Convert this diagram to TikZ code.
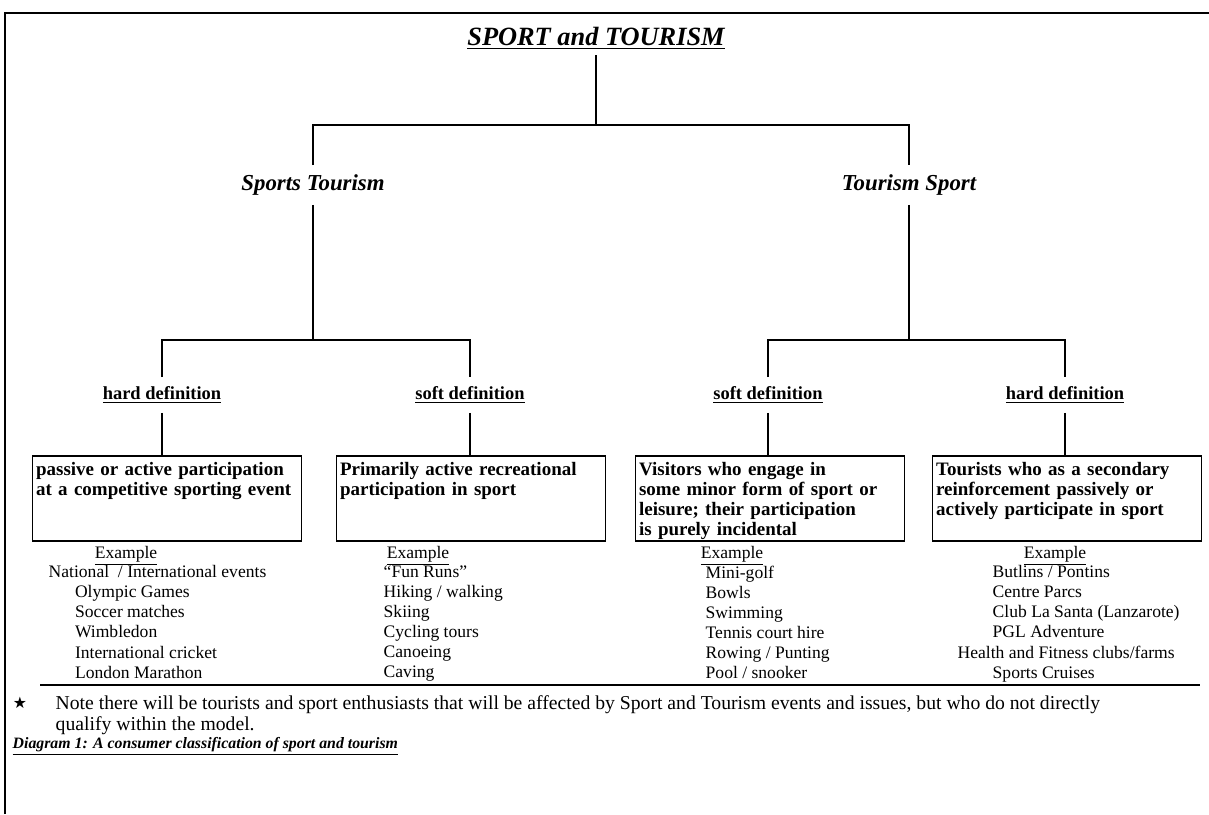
\documentclass[tikz,border=0pt]{standalone}
\usepackage{fontspec}
\setmainfont{Liberation Serif}
\newfontfamily\symfont{DejaVu Sans}
\usetikzlibrary{positioning}

\begin{document}
\begin{tikzpicture}
        [x=0.02cm, y=-0.02cm, line width=0.8pt,
         head/.style={font=\fontsize{15}{18}\selectfont\bfseries\itshape, inner sep=3pt},
         branch/.style={font=\fontsize{13}{15}\selectfont\bfseries\itshape, inner sep=5pt},
         defn/.style={font=\fontsize{10.5}{12}\selectfont\bfseries, inner sep=5pt},
         descbox/.style={draw, line width=1pt, anchor=north, text width=149pt, align=left, inner sep=2pt,
           text height=9.3pt, text depth=35pt, font=\fontsize{10.8}{11.4}\selectfont\bfseries},
         exhead/.style={font=\fontsize{10}{12}\selectfont, inner sep=0pt},
         exlist/.style={anchor=north west, align=left, inner sep=0pt, font=\fontsize{10}{11.4}\selectfont}]

        \useasboundingbox (0,0) rectangle (1209,814);
        \draw[line width=1.2pt] (5,814) -- (5,13) -- (1209,13);

        % tree
        \node[head] (top) at (596,38) {\underline{SPORT and TOURISM}};
        \node[branch] (st) at (313,185) {Sports Tourism};
        \node[branch] (ts) at (909,185) {Tourism Sport};
        \node[defn] (hd1) at (162,395) {\underline{hard definition}};
        \node[defn] (sd1) at (470,395) {\underline{soft definition}};
        \node[defn] (sd2) at (768,395) {\underline{soft definition}};
        \node[defn] (hd2) at (1065,395) {\underline{hard definition}};

        \coordinate (j0) at (596,125);
        \coordinate (j1) at (313,340);
        \coordinate (j2) at (909,340);

        \draw (top) -- (j0);
        \draw (st) |- (j0) -| (ts);
        \draw (st) -- (j1);
        \draw (ts) -- (j2);
        \draw (hd1) |- (j1) -| (sd1);
        \draw (sd2) |- (j2) -| (hd2);

        % boxes
        \node[descbox] (b1) at (167,455) {passive or active participation\\at a competitive sporting event};
        \node[descbox] (b2) at (471,455) {Primarily active recreational\\participation in sport};
        \node[descbox] (b3) at (770,455) {Visitors who engage in\\some minor form of sport or\\leisure; their participation\\is purely incidental};
        \node[descbox] (b4) at (1067,455) {Tourists who as a secondary\\reinforcement passively or\\actively participate in sport};

        \draw (hd1) -- (hd1 |- b1.north);
        \draw (sd1) -- (sd1 |- b2.north);
        \draw (sd2) -- (sd2 |- b3.north);
        \draw (hd2) -- (hd2 |- b4.north);

        % examples
        \node[exhead] (e1) at (126,556) {\underline{Example}};
        \node[exhead] (e2) at (418,556) {\underline{Example}};
        \node[exhead] (e3) at (732,556) {\underline{Example}};
        \node[exhead] (e4) at (1055,556) {\underline{Example}};

        \node[exlist] (l1) at (48,565) {National~ / International events\\
          \hspace*{15pt}Olympic Games\\\hspace*{15pt}Soccer matches\\\hspace*{15pt}Wimbledon\\
          \hspace*{15pt}International cricket\\\hspace*{15pt}London Marathon};
        \node[exlist] (l2) at (383,565) {``Fun Runs''\\Hiking / walking\\Skiing\\Cycling tours\\Canoeing\\Caving};
        \node[exlist] (l3) at (705,565) {Mini-golf\\Bowls\\Swimming\\Tennis court hire\\Rowing / Punting\\Pool / snooker};
        \node[exlist] (l4) at (992,565) {Butlins / Pontins\\Centre Parcs\\Club La Santa (Lanzarote)\\PGL Adventure\\
          \hspace*{-20pt}Health and Fitness clubs/farms\\Sports Cruises};

        % note
        \draw (40,685) -- (1200,685);
        \node[inner sep=0pt] (star) at (20,703) {\symfont\fontsize{9}{10}\selectfont ★};
        \node[anchor=north west, align=left, inner sep=0pt, font=\fontsize{11.2}{12}\selectfont] (note) at (55,695)
          {Note there will be tourists and sport enthusiasts that will be affected by Sport and Tourism events and issues, but who do not directly\\qualify within the model.};
        \node[anchor=west, inner sep=0pt, font=\fontsize{9}{11}\selectfont\bfseries\itshape] (cap) at (12,746)
          {\underline{Diagram 1: A consumer classification of sport and tourism}};
      \end{tikzpicture}
\end{document}
